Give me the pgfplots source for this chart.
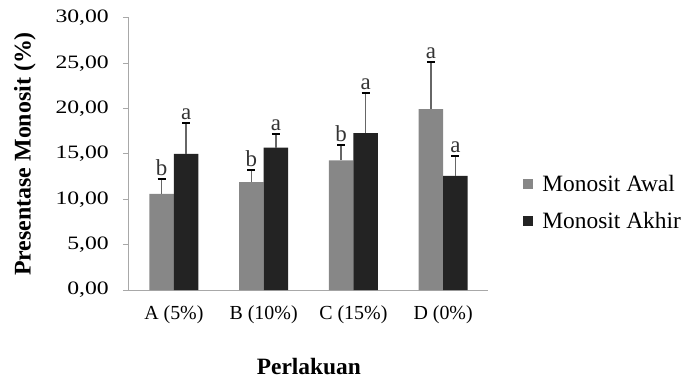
\documentclass[border=0pt]{standalone}
\usepackage{fontspec}
\setmainfont{Liberation Serif}
\newfontfamily\widefont{Liberation Serif}[FakeStretch=1.25]
\usepackage{pgfplots}
\pgfplotsset{compat=1.18}
\usepackage{pgfplotstable}
\definecolor{awal}{HTML}{878787}
\definecolor{akhir}{HTML}{232323}
\definecolor{axgray}{HTML}{A8A8A8}
\pgfplotstableread{
x y err
0 10.6 1.6
1 11.9 1.3
2 14.3 1.7
3 19.95 5.25
}\awaltab
\pgfplotstableread{
x y err
0 15.0 3.4
1 15.7 1.5
2 17.3 4.45
3 12.6 2.2
}\akhirtab
\pgfplotstableread{
x y lab
-0.1365 12.2 b
0.1365 18.4 a
0.8635 13.2 b
1.1365 17.2 a
1.8635 16.0 b
2.1365 21.75 a
2.8635 25.2 a
3.1365 14.8 a
}\labtab
\begin{document}
\begin{tikzpicture}
\path[use as bounding box] (-129bp,-95bp) rectangle (560bp,290bp);
\begin{axis}[
  scale only axis,
  width=359bp, height=272bp,
  xmin=-0.5, xmax=3.5,
  ymin=0, ymax=30,
  axis x line*=bottom, axis y line*=left,
  axis line style={draw=axgray, line width=1bp, -},
  xtick={0,1,2,3},
  xticklabels={A (5\%),B (10\%),C (15\%),D (0\%)},
  x tick style={draw=none},
  xticklabel style={font=\rmfamily\fontsize{20}{24}\selectfont, inner sep=0pt, yshift=-9bp},
  ytick={0,5,10,15,20,25,30},
  y tick style={draw=axgray, line width=1bp},
  tick align=outside,
  major tick length=6bp,
  yticklabel style={font=\widefont\fontsize{19}{22}\selectfont, xshift=-14bp, inner sep=0pt},
  /pgf/number format/.cd, fixed, fixed zerofill, precision=2, use comma, 1000 sep={}, assume math mode=true,
  /pgfplots/.cd,
  ylabel={Presentase Monosit (\%)},
  ylabel style={font=\rmfamily\bfseries\fontsize{24}{28}\selectfont, at={(axis description cs:-0.29,0.5)}, anchor=center},
  xlabel={Perlakuan},
  xlabel style={font=\rmfamily\bfseries\fontsize{23.5}{28}\selectfont, at={(axis description cs:0.501,-0.283)}, anchor=center},
  legend style={at={(1.098,0.322)}, anchor=west, draw=none, fill=none,
    font=\rmfamily\fontsize{23.5}{28}\selectfont, row sep=15bp, inner sep=0pt,
    nodes={inner sep=2bp}},
  legend cell align=left,
]
\addplot[ybar, bar width=24.5bp, bar shift=-12.25bp, fill=awal, draw=none,
  legend image code/.code={\fill[awal] (0bp,-5bp) rectangle (10bp,5bp); \path (17bp,0bp);},
  error bars/.cd, y dir=plus, y explicit,
  error bar style={draw=black!60, line width=1.6bp, xshift=-12.25bp},
  error mark options={draw=black, line width=2bp, mark size=4bp, rotate=90},
  ]
  table[x=x, y=y, y error=err]{\awaltab};
\addlegendentry{Monosit Awal}
\addplot[ybar, bar width=24.5bp, bar shift=12.25bp, fill=akhir, draw=none,
  legend image code/.code={\fill[akhir] (0bp,-5bp) rectangle (10bp,5bp); \path (17bp,0bp);},
  error bars/.cd, y dir=plus, y explicit,
  error bar style={draw=black!60, line width=1.6bp, xshift=12.25bp},
  error mark options={draw=black, line width=2bp, mark size=4bp, rotate=90},
  ]
  table[x=x, y=y, y error=err]{\akhirtab};
\addlegendentry{Monosit Akhir}
\addplot[draw=none, mark=none, forget plot, nodes near coords, point meta=explicit symbolic,
  nodes near coords style={anchor=south, font=\rmfamily\fontsize{23}{26}\selectfont, inner sep=1bp, yshift=2bp, text=black!80}]
  table[x=x, y=y, meta=lab]{\labtab};
\end{axis}
\end{tikzpicture}
\end{document}
